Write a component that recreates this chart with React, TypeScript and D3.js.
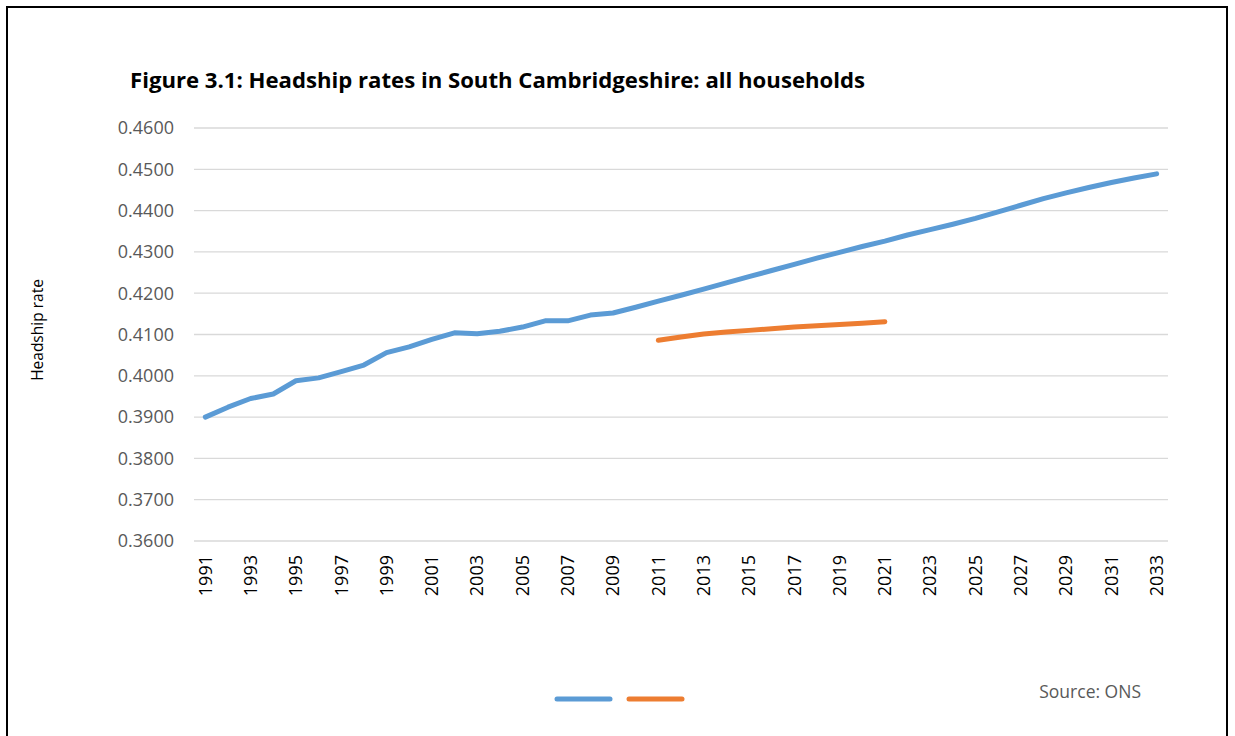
import { useRef, useEffect } from "react";
import * as d3 from "d3";

const years = d3.range(1991, 2034).map(String);

// blue series, 1991-2033
const allHouseholds = [
  0.3900, 0.3924, 0.3945, 0.3956, 0.3988, 0.3995, 0.4010, 0.4026, 0.4056, 0.4070,
  0.4088, 0.4104, 0.4102, 0.4108, 0.4118, 0.4133, 0.4133, 0.4147, 0.4152, 0.4166,
  0.4181, 0.4195, 0.4210, 0.4225, 0.4240, 0.4255, 0.4270, 0.4285, 0.4299, 0.4313,
  0.4326, 0.4341, 0.4354, 0.4367, 0.4381, 0.4397, 0.4413, 0.4429, 0.4443, 0.4456,
  0.4468, 0.4479, 0.4489,
];

// orange series, 2011-2021
const shortYears = d3.range(2011, 2022).map(String);
const shortSeries = [
  0.4086, 0.4094, 0.4101, 0.4106, 0.4110, 0.4114, 0.4118, 0.4121, 0.4124, 0.4127, 0.4131,
];

const yTicks = [0.36, 0.37, 0.38, 0.39, 0.40, 0.41, 0.42, 0.43, 0.44, 0.45, 0.46];
const xTickYears = years.filter((d, i) => i % 2 === 0);

const W = 1235;
const H = 736;
const font = "'Open Sans', sans-serif";

export default function App() {
  const svgRef = useRef<SVGSVGElement>(null);

  useEffect(() => {
    const svg = d3.select(svgRef.current).html(null);

    const x = d3.scalePoint().domain(years).range([194, 1168]).padding(0.5);
    const y = d3.scaleLinear().domain([0.36, 0.46]).range([541, 128]);

    // frame
    svg.append("rect")
      .attr("x", 7).attr("y", 7)
      .attr("width", 1220).attr("height", 740)
      .attr("fill", "white")
      .attr("stroke", "black")
      .attr("stroke-width", 2);

    svg.append("text")
      .attr("x", 130).attr("y", 88)
      .attr("font-family", font)
      .attr("font-weight", "bold")
      .attr("font-size", 21)
      .attr("textLength", 735)
      .attr("lengthAdjust", "spacingAndGlyphs")
      .attr("fill", "black")
      .text("Figure 3.1: Headship rates in South Cambridgeshire: all households");

    // gridlines
    svg.append("g").selectAll("line")
      .data(yTicks)
      .join("line")
      .attr("x1", 194).attr("x2", 1168)
      .attr("y1", d => y(d)).attr("y2", d => y(d))
      .attr("stroke", "#d9d9d9")
      .attr("stroke-width", 1.3);

    svg.append("g").selectAll("text")
      .data(yTicks)
      .join("text")
      .attr("x", 174).attr("y", d => y(d))
      .attr("dy", "0.35em")
      .attr("text-anchor", "end")
      .attr("font-family", font)
      .attr("font-size", 18)
      .attr("fill", "#595959")
      .text(d => d.toFixed(4));

    svg.append("g").selectAll("text")
      .data(xTickYears)
      .join("text")
      .attr("transform", d => `translate(${x(d)},555) rotate(-90)`)
      .attr("dy", "0.35em")
      .attr("text-anchor", "end")
      .attr("font-family", font)
      .attr("font-size", 18)
      .attr("fill", "black")
      .text(d => d);

    svg.append("text")
      .attr("transform", "translate(38,330) rotate(-90)")
      .attr("text-anchor", "middle")
      .attr("dy", "0.35em")
      .attr("font-family", font)
      .attr("font-size", 15.5)
      .attr("fill", "black")
      .text("Headship rate");

    const line = d3.line<[string, number]>()
      .x(d => x(d[0]) as number)
      .y(d => y(d[1]));

    svg.append("path")
      .attr("d", line(d3.zip(years, allHouseholds) as [string, number][]))
      .attr("fill", "none")
      .attr("stroke", "#5b9bd5")
      .attr("stroke-width", 5)
      .attr("stroke-linecap", "round")
      .attr("stroke-linejoin", "round");

    svg.append("path")
      .attr("d", line(d3.zip(shortYears, shortSeries) as [string, number][]))
      .attr("fill", "none")
      .attr("stroke", "#ed7d31")
      .attr("stroke-width", 5)
      .attr("stroke-linecap", "round")
      .attr("stroke-linejoin", "round");

    // legend (no labels in the original)
    const legend = svg.append("g");
    [["#5b9bd5", 557], ["#ed7d31", 629]].forEach(([c, lx]) => {
      legend.append("line")
        .attr("x1", lx as number).attr("x2", (lx as number) + 53)
        .attr("y1", 699).attr("y2", 699)
        .attr("stroke", c as string)
        .attr("stroke-width", 5)
        .attr("stroke-linecap", "round");
    });

    svg.append("text")
      .attr("x", 1141).attr("y", 692)
      .attr("dy", "0.35em")
      .attr("text-anchor", "end")
      .attr("font-family", font)
      .attr("font-size", 17.5)
      .attr("fill", "#595959")
      .text("Source: ONS");
  }, []);

  return (
    <svg
      ref={svgRef}
      width={W}
      height={H}
      style={{ position: "absolute", left: 0, top: 0, background: "white" }}
    ></svg>
  );
}
